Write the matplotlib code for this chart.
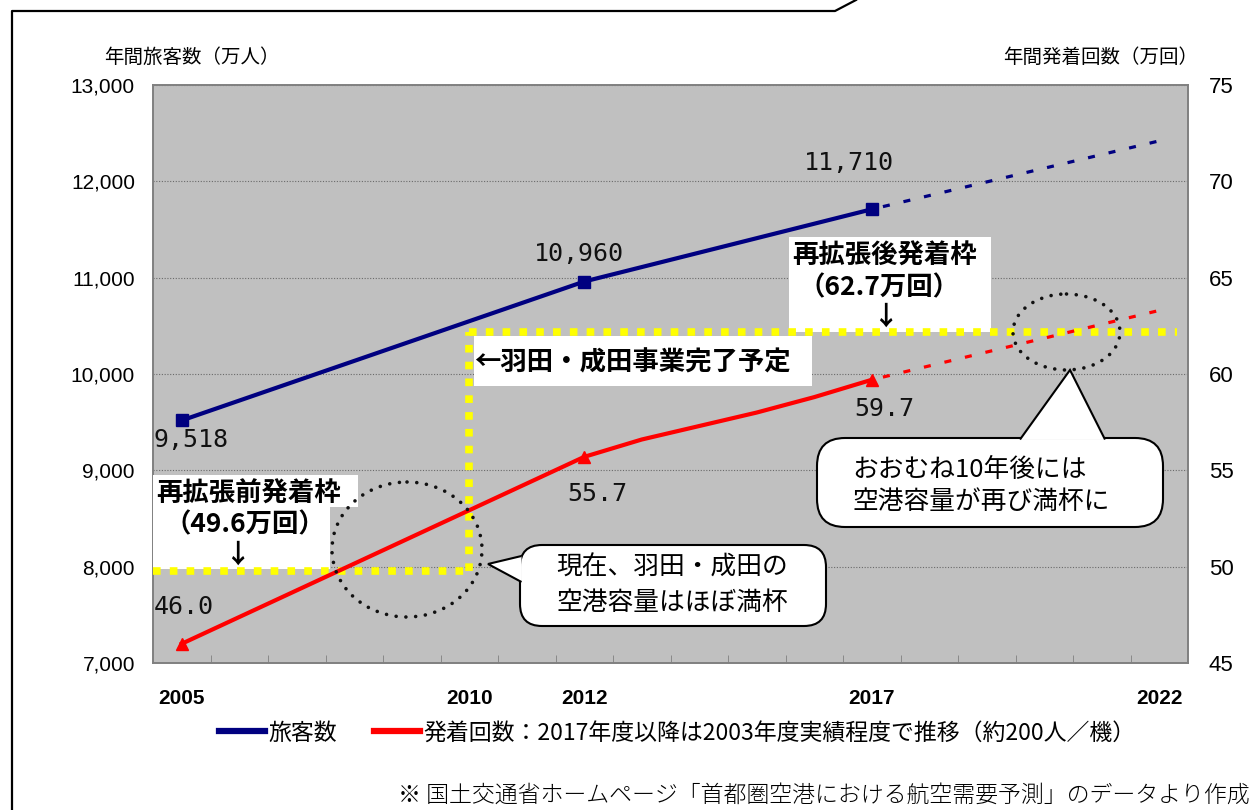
import matplotlib
matplotlib.use('Agg')
import numpy as np
import matplotlib.pyplot as plt
from matplotlib.lines import Line2D
from matplotlib.patches import Ellipse, FancyBboxPatch, Polygon, Rectangle
from matplotlib.transforms import Affine2D

plt.rcParams['font.family'] = ['Noto Sans CJK JP', 'DejaVu Sans']

# ---- data ----
pax_years = [2005, 2012, 2017]
pax = [9518, 10960, 11710]                 # 年間旅客数(万人)
pax_fc_years = [2017, 2022]
pax_fc = [11710, 12420]                    # projection (dashed)
pax_labels = ['9,518', '10,960', '11,710']

mov_years = [2005, 2012, 2013, 2014, 2015, 2016, 2017]
mov = [46.0, 55.7, 56.6, 57.3, 58.0, 58.8, 59.7]   # 年間発着回数(万回)
mov_fc_years = [2017, 2022]
mov_fc = [59.7, 63.3]
mov_label_years = [2005, 2012, 2017]
mov_label_vals = [46.0, 55.7, 59.7]
mov_labels = ['46.0', '55.7', '59.7']

xtick_years = [2005, 2010, 2012, 2017, 2022]
left_ticks = [7000, 8000, 9000, 10000, 11000, 12000, 13000]
right_ticks = [45, 50, 55, 60, 65, 70, 75]

# slot frame (yellow) as drawn on the original
frame_low = 49.8
frame_high = 62.2
frame_switch = 2010

NAVY = '#000080'
RED = '#FF0000'

fig = plt.figure(figsize=(12.59, 8.10), dpi=100)
ax = fig.add_axes([153/1259, 1-663/810, 1035/1259, 578/810])
ax2 = ax.twinx()

# pixel coords (top-left origin) helper for decorations
px = Affine2D().scale(1/100, -1/100).translate(0, 8.10) + fig.dpi_scale_trans

ax.set_facecolor('#C0C0C0')
for a in (ax, ax2):
    for s in a.spines.values():
        s.set_color('#808080')
        s.set_linewidth(1.2)

ax.set_xlim(2004.5, 2022.5)
ax.set_ylim(7000, 13000)
ax2.set_ylim(45, 75)

ax.set_yticks(left_ticks)
ax.set_yticklabels([f'{v:,}' for v in left_ticks], family=['Liberation Sans'], fontsize=15)
ax2.set_yticks(right_ticks)
ax2.set_yticklabels([str(v) for v in right_ticks], family=['Liberation Sans'], fontsize=16)
ax.tick_params(axis='y', length=0, pad=13)
ax2.tick_params(axis='y', length=0, pad=15)

ax.set_xticks(xtick_years)
ax.set_xticklabels([str(y) for y in xtick_years], family=['Liberation Sans Narrow', 'Liberation Sans'],
                   fontsize=15, fontweight='bold')
ax.set_xticks(np.arange(2005.5, 2022, 1), minor=True)
ax.tick_params(axis='x', which='major', length=0, pad=19)
ax.tick_params(axis='x', which='minor', direction='in', length=6, color='#808080')

ax.yaxis.grid(True, color='#6a6a6a', lw=0.8, ls=(0, (1, 1.5)))
ax.set_axisbelow(True)

# ---- series ----
ax.plot(pax_years, pax, color=NAVY, lw=3, marker='s', ms=8, zorder=3)
ax.plot(pax_fc_years, pax_fc, color=NAVY, lw=2.3, ls=(3, (2.2, 4.4)), zorder=3)
ax2.plot(mov_years, mov, color=RED, lw=3, zorder=5)
ax2.plot(mov_label_years, mov_label_vals, ls='none', marker='^', ms=9, color=RED, zorder=5)
ax2.plot(mov_fc_years, mov_fc, color=RED, lw=2.3, ls=(3, (2.2, 4.4)), zorder=5)

# data labels
lab_font = dict(family=['DejaVu Sans Mono'], fontsize=18, color='#111111')
pax_off = [(-28, -20, 'left'), (-5, 28, 'center'), (-23, 46, 'center')]
for x, y, t, (dx, dy, ha) in zip(pax_years, pax, pax_labels, pax_off):
    ax.annotate(t, (x, y), xytext=(dx, dy), textcoords='offset pixels',
                ha=ha, va='center', zorder=6, **lab_font)
mov_off = [(-28, 37, 'left'), (13, -37, 'center'), (12, -29, 'center')]
for x, y, t, (dx, dy, ha) in zip(mov_label_years, mov_label_vals, mov_labels, mov_off):
    ax2.annotate(t, (x, y), xytext=(dx, dy), textcoords='offset pixels',
                 ha=ha, va='center', zorder=6, **lab_font)

# ---- white label boxes ----
for (x0, y0, w, h) in [(153, 475, 205, 32), (153, 507, 177, 62),
                       (474, 336, 338, 50), (789, 237, 202, 95)]:
    ax2.add_patch(Rectangle((x0, y0), w, h, transform=px, fc='white', ec='none',
                            zorder=3, clip_on=False))

bold = dict(fontsize=19, fontweight='bold', color='black', transform=px, zorder=6, va='center')
ax2.text(156, 494, '再拡張前発着枠', ha='left', **bold)
ax2.text(164, 525, '（49.6万回）', ha='left', **bold)
ax2.text(237, 555, '↓', ha='center', **bold)
ax2.text(474, 363, '←羽田・成田事業完了予定', ha='left', **bold)
ax2.text(792, 256, '再拡張後発着枠', ha='left', **bold)
ax2.text(799, 288, '（62.7万回）', ha='left', **bold)
ax2.text(885, 317, '↓', ha='center', **bold)

# yellow slot frame
yel = dict(color='#FFFF00', lw=5.5, ls=(0, (1, 1.2)), solid_capstyle='butt',
           dash_capstyle='butt', zorder=4, clip_on=False)
ax2.plot([2004.5, frame_switch], [frame_low, frame_low], **yel)
ax2.plot([frame_switch, frame_switch], [frame_low, frame_high], **yel)
ax2.plot([frame_switch, 2022.3], [frame_high, frame_high], **yel)

# dotted circles
for (cx, cy, w, h) in [(407, 549.5, 150, 135), (1066.5, 332, 107, 76)]:
    ax2.add_patch(Ellipse((cx, cy), w, h, transform=px, fill=False, ec='#111111',
                          lw=2.6, ls=(0, (0.01, 2.7)), capstyle='round', zorder=8,
                          clip_on=False))

# callouts
call = dict(transform=px, fc='white', ec='black', lw=1.5, zorder=7, clip_on=False)
ax2.add_patch(FancyBboxPatch((520, 545), 306, 81,
                             boxstyle='round,pad=0,rounding_size=22', **call))
ax2.add_patch(Polygon([(521.5, 556), (488, 564), (521.5, 582)], closed=False, **call))
ax2.add_patch(FancyBboxPatch((817, 438), 346, 89,
                             boxstyle='round,pad=0,rounding_size=28', **call))
ax2.add_patch(Polygon([(1020, 439.5), (1070, 370), (1105, 439.5)], closed=False, **call))

norm = dict(fontsize=18.5, color='black', transform=px, zorder=9, va='center')
ax2.text(672, 568, '現在、羽田・成田の', ha='center', **norm)
ax2.text(672, 603, '空港容量はほぼ満杯', ha='center', **norm)
ax2.text(852, 470, 'おおむね10年後には', ha='left', **norm)
ax2.text(852, 502, '空港容量が再び満杯に', ha='left', **norm)

# axis titles
fig.text(192/1259, 1-57/810, '年間旅客数（万人）', ha='center', va='center', fontsize=14)
fig.text(1101/1259, 1-57/810, '年間発着回数（万回）', ha='center', va='center', fontsize=14)

# legend
handles = [Line2D([], [], color=NAVY, lw=4.5),
           Line2D([], [], color=RED, lw=4.5)]
fig.legend(handles, ['旅客数', '発着回数：2017年度以降は2003年度実績程度で推移（約200人／機）'],
           loc='center', bbox_to_anchor=(0.538, 1-733/810), ncol=2, frameon=False,
           handlelength=2.0, handletextpad=0.15, columnspacing=1.6,
           prop=dict(family='Noto Sans CJK JP', size=16.5))

# footnote
fig.text(1250/1259, 1-795/810, '※ 国土交通省ホームページ「首都圏空港における航空需要予測」のデータより作成',
         ha='right', va='center', fontsize=16.5, fontweight='light')

# outer frame
fig.add_artist(Line2D([12, 12, 835, 856], [810, 11, 11, 0], transform=px,
                      color='black', lw=1.6))

fig.savefig('out.png', dpi=100)
